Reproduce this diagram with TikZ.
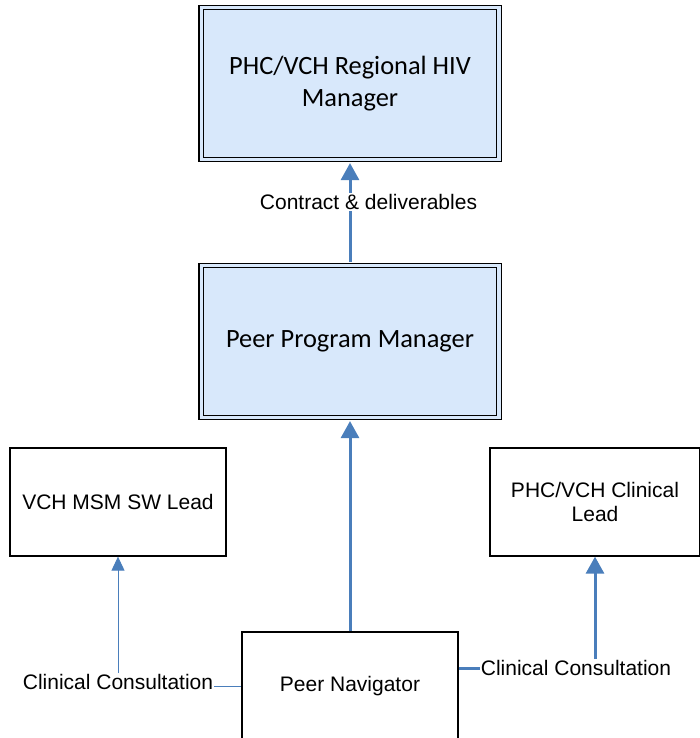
\documentclass[tikz,border=0pt]{standalone}
\usepackage{fontspec}
\setmainfont{Liberation Sans}
\newfontfamily\calibri{Carlito}
\usepackage{tikz}
\usetikzlibrary{arrows.meta}
\definecolor{arrowblue}{RGB}{74,126,187}
\definecolor{boxblue}{RGB}{216,232,251}

\begin{document}
\begin{tikzpicture}[x=1pt,y=-1pt]
\tikzset{edge/.style = {-{Triangle[length=17pt,width=18pt]}, draw=arrowblue, line width=3pt}}
\tikzset{thinedge/.style = {-{Triangle[length=14pt,width=13pt]}, draw=arrowblue, line width=1pt}}
\tikzset{topbox/.style = {draw=black, line width=1.2pt, double=boxblue, double distance=3.4pt, fill=boxblue,
  minimum width=297.6pt, minimum height=152pt, inner sep=0pt, align=center,
  font=\calibri\fontsize{26.4}{32}\selectfont}}
\tikzset{plainbox/.style = {draw=black, line width=1.3pt, fill=white, inner sep=0pt, align=center,
  minimum height=108pt}}
\tikzstyle{every node}=[font=\fontsize{21}{24}\selectfont]
\useasboundingbox (0,0) rectangle (699,738);
\node [topbox] at (350,83.5)(hiv) {PHC/VCH Regional HIV\\Manager};
\node [topbox] at (350,341.5)(ppm) {Peer Program Manager};
\node [plainbox, minimum width=216pt] at (118,502)(msm) {VCH MSM SW Lead};
\node [plainbox, minimum width=210pt] at (595,502)(clin) {PHC/VCH Clinical\\Lead};
\node [plainbox, minimum width=216pt] at (350,686)(nav) {Peer Navigator};
\node [inner sep=1pt] at (118,682)(consl) {Clinical Consultation};
\node [inner sep=1pt] at (576,668)(consr) {Clinical Consultation};
\draw [edge, shorten >=3pt, shorten <=3pt] (ppm.north) -- (hiv.south);
\node [fill=white, inner sep=1pt] at (368.5,202)(contract) {Contract \& deliverables};
\draw [edge, shorten >=3pt] (nav.north) -- (ppm.south);
\draw [draw=arrowblue, line width=1pt] (consl.east |- nav.west) -- (nav.west);
\draw [thinedge] (consl.north) -- (msm.south);
\draw [draw=arrowblue, line width=3pt] (nav.east |- consr.west) -- (consr.west);
\draw [edge] (clin.south |- consr.north) -- (clin.south);
\end{tikzpicture}
\end{document}
